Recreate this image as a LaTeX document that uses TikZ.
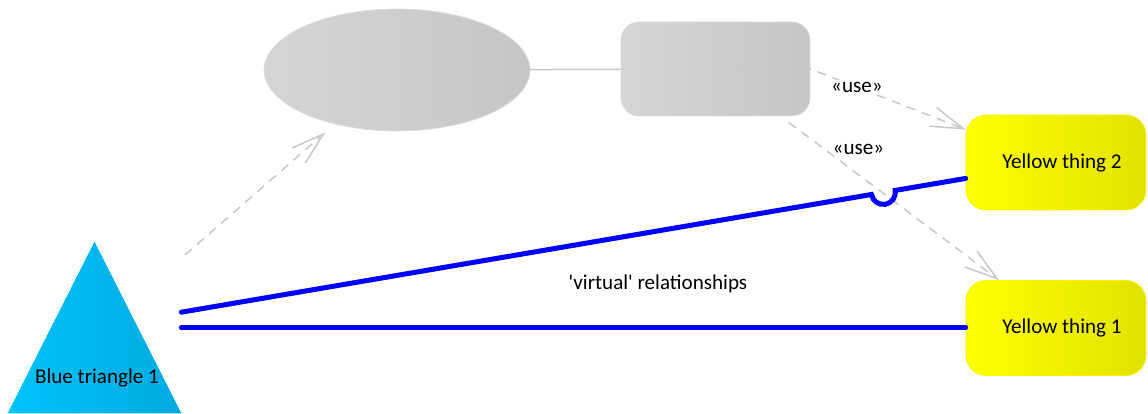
\documentclass[tikz,border=0pt]{standalone}
\usepackage{fontspec}
\setmainfont{Carlito}
\usetikzlibrary{shapes.geometric,arrows.meta,calc,positioning}

\definecolor{grayfill}{RGB}{213,213,213}
\definecolor{grayfillr}{RGB}{198,198,198}
\definecolor{grayedge}{RGB}{222,222,222}
\definecolor{grayline}{RGB}{200,200,200}
\definecolor{triL}{RGB}{0,195,250}
\definecolor{triR}{RGB}{0,170,225}
\definecolor{yelR}{RGB}{226,226,0}
\definecolor{relblue}{RGB}{0,0,255}

\tikzset{
	greybox/.style={draw=grayedge, left color=grayfill, right color=grayfillr, inner sep=0pt},
	yelbox/.style={draw=yellow, left color=yellow, right color=yelR, rounded corners=4mm,
		minimum width=36mm, minimum height=19mm, inner sep=0pt},
	plain/.style={draw=grayline, line width=0.3mm},
	usedep/.style={draw=grayline, line width=0.3mm, dash pattern=on 1.8mm off 1.4mm,
		-{Straight Barb[length=6.5mm,width=4mm]}},
	rel/.style={draw=relblue, line width=1mm, line cap=round}
}

\begin{document}
\begin{tikzpicture}[x=0.2mm, y=-0.2mm, font=\fontsize{12}{14}\selectfont]

	\useasboundingbox (0,0) rectangle (1148,414);

	\node 	(tri)	at	(94.5,327.5)	[minimum width=34.6mm, minimum height=34.2mm, inner sep=0pt]{};
	\shade[left color=triL, right color=triR] (tri.south west) -- (tri.north) -- (tri.south east) -- cycle;
	\node 	(tritxt)	at	(97,378)	{Blue triangle 1};

	\node 	(ell)	at	(397,70)	[ellipse, greybox, minimum width=53.2mm, minimum height=24.4mm]{};
	\node 	(rct)	at	(715.5,69)	[greybox, rounded corners=3.6mm, minimum width=37.8mm, minimum height=18.8mm]{};

	\node 	(yt2)	at	(1056,162.5)	[yelbox]{\hspace{2.4mm}Yellow thing 2};
	\node 	(yt1)	at	(1056,328)	[yelbox]{\hspace{2.4mm}Yellow thing 1};

	\coordinate 	(vsrc)	at	(185,255);

	\draw[plain]	(ell)	--	(rct);
	\draw[usedep, shorten >=2.5mm]	(vsrc)	--	(ell.221);
	\draw[usedep]	([xshift=1.3mm]rct.center)	--	(rct.east)	--	node[pos=0.3, fill=white, inner sep=1pt]{«use»}	(yt2.160);
	\draw[usedep, shorten <=2mm]	(rct.-36)	--	node[pos=0.2, right=1pt]{«use»}	(yt1.140);

	% the upper relationship hops over the second dependency
	\coordinate 	(hop)	at	($(tri.10)!0.895!(yt2.190)$);
	\draw[rel]	(tri.10)	--	($(hop)!2.4mm!(tri.10)$)	arc[start angle=189.7, end angle=369.7, radius=2.4mm]	--	(yt2.190);
	\draw[rel]	(tri.east)	--	(tri.east -| yt1.west);

	\node 	(vrel)	at	(658,284)	{\textquotesingle virtual\textquotesingle{} relationships};

\end{tikzpicture}
\end{document}
